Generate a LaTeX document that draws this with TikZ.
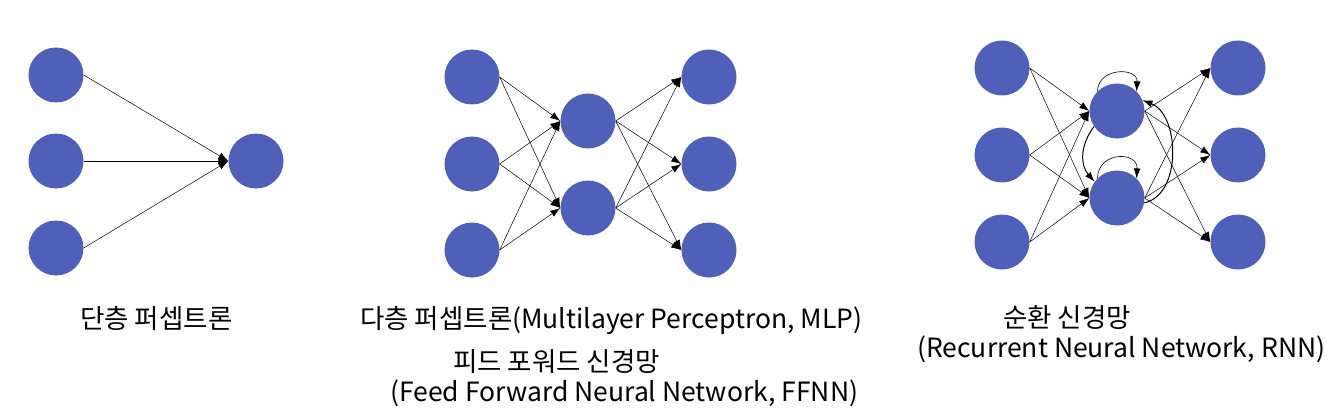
\documentclass[tikz,border=0pt]{standalone}
\usepackage{fontspec}
\newfontfamily\krfont{Noto Sans CJK KR}
\usetikzlibrary{arrows.meta}
\definecolor{neuronblue}{RGB}{80,95,184}

\begin{document}
\begin{tikzpicture}[x=1pt,y=-1pt,
    neuron/.style={circle,fill=neuronblue,minimum size=55pt,inner sep=0pt},
    lbl/.style={font=\krfont\fontsize{26.5}{30}\selectfont,anchor=base west,inner sep=0pt},
    >={Latex[length=10pt,width=7pt]}]
  \useasboundingbox (0,0) rectangle (1340,417);

  % single layer
  \foreach \i/\y in {1/75,2/161,3/248}
    \node[neuron] (s\i) at (56,\y) {};
  \node[neuron] (so) at (256,161) {};
  \foreach \i in {1,2,3}
    \draw[->,line width=0.5pt] (s\i.east) -- (so.west);

  % multilayer
  \foreach \i/\y in {1/77,2/164,3/250} {
    \node[neuron] (m\i) at (472,\y) {};
    \node[neuron] (mo\i) at (709,\y) {};
  }
  \node[neuron] (mh1) at (588,121) {};
  \node[neuron] (mh2) at (588,208) {};
  \foreach \i in {1,2,3}
    \foreach \j in {1,2} {
      \draw[->,line width=0.5pt] (m\i.east) -- (mh\j.west);
      \draw[->,line width=0.5pt] (mh\j.east) -- (mo\i.west);
    }

  % recurrent
  \foreach \i/\y in {1/68,2/155,3/242} {
    \node[neuron] (r\i) at (1002,\y) {};
    \node[neuron] (ro\i) at (1238,\y) {};
  }
  \node[neuron] (rh1) at (1117,111) {};
  \node[neuron] (rh2) at (1117,198) {};
  \foreach \i in {1,2,3}
    \foreach \j in {1,2} {
      \draw[->,line width=0.5pt] (r\i.east) -- (rh\j.west);
      \draw[->,line width=0.5pt] (rh\j.east) -- (ro\i.west);
    }
  \draw[->,line width=0.6pt] (rh1.135) .. controls (1098,67) and (1138,67) .. (rh1.45);
  \draw[->,line width=0.6pt] (rh2.135) .. controls (1098,151) and (1138,151) .. (rh2.45);
  \draw[->,line width=1pt] (rh1.214) .. controls (1080,145) and (1080,165) .. (rh2.144);
  \draw[->,line width=1pt] (rh2.350) .. controls (1182,195) and (1180,115) .. (rh1.23);

  % labels
  \node[lbl] (t1) at (80,328) {단층 퍼셉트론};
  \node[lbl] (t2) at (360,328) {다층 퍼셉트론(Multilayer Perceptron, MLP)};
  \node[lbl] (t3) at (453,371) {피드 포워드 신경망};
  \node[lbl] (t4) at (390,401) {(Feed Forward Neural Network, FFNN)};
  \node[lbl] (t5) at (1003,327) {순환 신경망};
  \node[lbl] (t6) at (917,357) {(Recurrent Neural Network, RNN)};
\end{tikzpicture}
\end{document}
